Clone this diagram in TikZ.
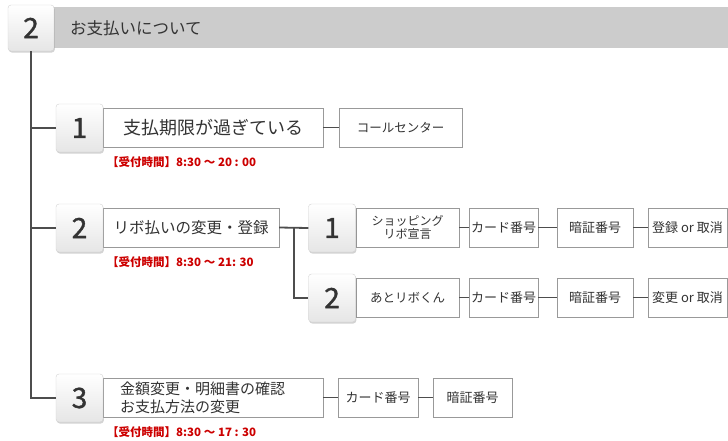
\documentclass[tikz,border=0pt]{standalone}
\usepackage{fontspec}
\setmainfont{Noto Sans CJK JP}
\newfontfamily\numfont[FakeBold=1.3]{Noto Sans CJK JP}
\usetikzlibrary{shadows}
\definecolor{txt}{HTML}{333333}
\definecolor{ln}{HTML}{4D4D4D}
\definecolor{bd}{HTML}{999999}
\definecolor{myred}{HTML}{CC0000}
\definecolor{barc}{HTML}{CCCCCC}
\tikzset{
 numbox/.style={rectangle, rounded corners=3pt, minimum width=47pt, minimum height=48pt, draw=gray!35, top color=white, bottom color=gray!20, drop shadow={opacity=0.35, shadow xshift=0.8pt, shadow yshift=-1.5pt}, font=\numfont\fontsize{28}{28}\selectfont, text=txt, inner sep=0pt},
 tbox/.style={rectangle, draw=bd, fill=white, minimum height=39pt, inner sep=0pt, text=txt, align=center},
 conn/.style={draw=ln, line width=1.8pt},
 redtxt/.style={anchor=west, text=myred, font=\bfseries\fontsize{11.5}{12}\selectfont, inner sep=0pt},
 fa/.style={font=\fontsize{18}{20}\selectfont},
 fb/.style={font=\fontsize{15.5}{18}\selectfont},
 fc/.style={font=\fontsize{13}{15}\selectfont},
 fd/.style={font=\fontsize{12.5}{14}\selectfont},
}
\begin{document}
\begin{tikzpicture}[x=1pt,y=-1pt]
\useasboundingbox (0,0) rectangle (728,440);
% header
\node[rectangle, fill=barc, minimum width=674pt, minimum height=41pt, inner sep=0pt] (hbar) at (391,27.5) {};
\node[anchor=west, text=txt, font=\fontsize{16.5}{18}\selectfont, inner sep=0pt] (htext) at (70,28) {お支払いについて};
\node[numbox, minimum width=46pt, minimum height=46pt] (hnum) at (31,28) {2};
% row 1
\node[tbox, fa, minimum width=220pt] (box1) at (213,127.5) {支払期限が過ぎている};
\node[tbox, fd, minimum width=123pt] (cc1) at (400.5,127.5) {コールセンター};
\node[numbox] (num1) at (79.5,128) {1};
\node[redtxt] (red1) at (107,162) {【受付時間】8:30 ～ 20 : 00};
% row 2
\node[tbox, fb, minimum width=176pt] (box2) at (191,227.5) {リボ払いの変更・登録};
\node[numbox] (num2) at (79.5,228) {2};
\node[redtxt] (red2) at (107,262) {【受付時間】8:30 ～ 21: 30};
% sub row A
\node[tbox, minimum width=103pt, font=\fontsize{12}{13}\selectfont] (boxA) at (407.5,227.5) {ショッピング\\リボ宣言};
\node[tbox, fc, minimum width=69pt] (cardA) at (503.5,227.5) {カード番号};
\node[tbox, fc, minimum width=76pt] (pinA) at (595,227.5) {暗証番号};
\node[tbox, fc, minimum width=79pt] (regA) at (687.5,227.5) {登録 or 取消};
\node[numbox] (numA) at (332,228) {1};
% sub row B
\node[tbox, fd, minimum width=103pt] (boxB) at (407.5,297.5) {あとリボくん};
\node[tbox, fc, minimum width=69pt] (cardB) at (503.5,297.5) {カード番号};
\node[tbox, fc, minimum width=76pt] (pinB) at (595,297.5) {暗証番号};
\node[tbox, fc, minimum width=79pt] (regB) at (687.5,297.5) {変更 or 取消};
\node[numbox] (numB) at (332,298) {2};
% row 3
\node[tbox, minimum width=220pt] (box3) at (213,397.5) {};
\node[anchor=west, align=left, text=txt, font=\fontsize{15}{18}\selectfont, inner sep=0pt] (t3) at (120,397.5) {金額変更・明細書の確認\\お支払方法の変更};
\node[tbox, fc, minimum width=80pt] (card3) at (378,397.5) {カード番号};
\node[tbox, fc, minimum width=79pt] (pin3) at (472.5,397.5) {暗証番号};
\node[numbox] (num3) at (79.5,398) {3};
\node[redtxt] (red3) at (107,432) {【受付時間】8:30 ～ 17 : 30};
% connectors
\draw[conn] (hnum.south) |- (num3.west);
\draw[conn] (hnum.south |- num1.west) -- (num1.west);
\draw[conn] (hnum.south |- num2.west) -- (num2.west);
\draw[conn] (box1.east) -- (cc1.west);
\draw[conn] (box2.east) -- (numA.west);
\coordinate (br) at (294,228);
\draw[conn] (br) |- (numB.west);
\draw[conn] (boxA.east) -- (cardA.west);
\draw[conn] (cardA.east) -- (pinA.west);
\draw[conn] (pinA.east) -- (regA.west);
\draw[conn] (boxB.east) -- (cardB.west);
\draw[conn] (cardB.east) -- (pinB.west);
\draw[conn] (pinB.east) -- (regB.west);
\draw[conn] (box3.east) -- (card3.west);
\draw[conn] (card3.east) -- (pin3.west);
\end{tikzpicture}
\end{document}
